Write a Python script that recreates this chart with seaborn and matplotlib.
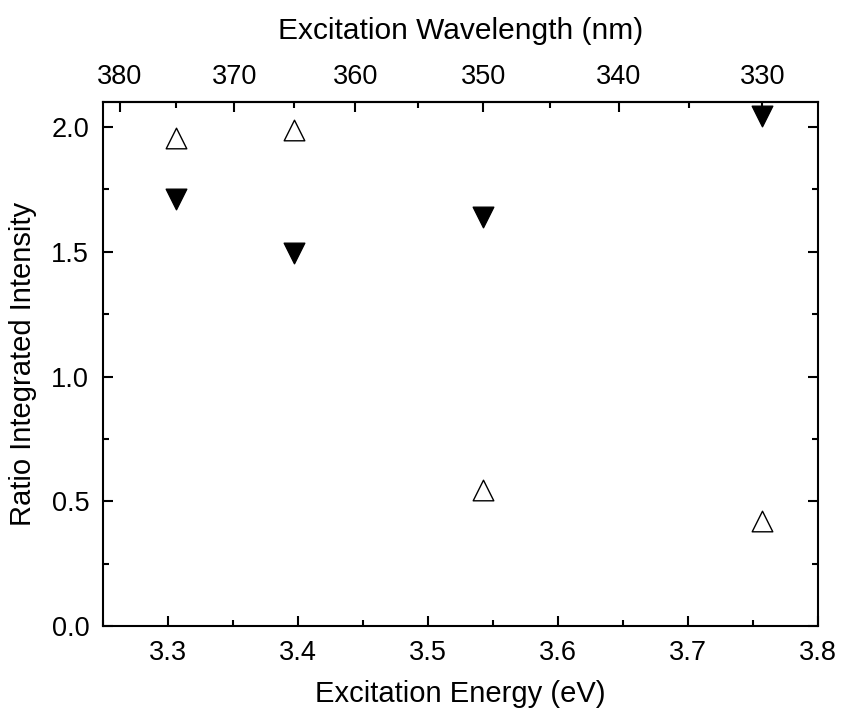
import numpy as np
import pandas as pd
import matplotlib
matplotlib.use('Agg')
import matplotlib.pyplot as plt
import seaborn as sns
from matplotlib.ticker import MultipleLocator

# 数据：激发能量 (eV) 及两组强度比
energy = [3.306, 3.397, 3.542, 3.757]
ratio_open = [1.957, 1.987, 0.547, 0.421]
ratio_filled = [1.712, 1.496, 1.640, 2.044]
wavelength_ticks = [380, 370, 360, 350, 340, 330]
wavelength_minor = [375, 365, 355, 345, 335]

sns.set_style("ticks")
plt.rcParams['font.family'] = ['Liberation Sans', 'DejaVu Sans']
plt.rcParams['text.color'] = 'black'
plt.rcParams['axes.labelcolor'] = 'black'
plt.rcParams['xtick.color'] = 'black'
plt.rcParams['ytick.color'] = 'black'
plt.rcParams['axes.edgecolor'] = 'black'

df_open = pd.DataFrame({'energy': energy, 'ratio': ratio_open})
df_filled = pd.DataFrame({'energy': energy, 'ratio': ratio_filled})

fig = plt.figure(figsize=(8.41, 7.18), dpi=100)
ax = fig.add_axes([0.1225, 0.1281, 0.8502, 0.7298])

sns.scatterplot(data=df_open, x='energy', y='ratio', marker='^', s=220,
                facecolor='white', edgecolor='black', linewidth=1.0, ax=ax)
sns.scatterplot(data=df_filled, x='energy', y='ratio', marker='v', s=220,
                color='black', edgecolor='black', linewidth=1.0, ax=ax)

ax.set_xlim(3.25, 3.8)
ax.set_ylim(0, 2.1)
ax.xaxis.set_major_locator(MultipleLocator(0.1))
ax.xaxis.set_minor_locator(MultipleLocator(0.05))
ax.yaxis.set_major_locator(MultipleLocator(0.5))
ax.yaxis.set_minor_locator(MultipleLocator(0.25))
ax.set_xlabel('Excitation Energy (eV)', fontsize=21, labelpad=10)
ax.set_ylabel('Ratio Integrated Intensity', fontsize=21, labelpad=10)
ax.tick_params(which='both', direction='in', right=True, top=False, width=1.5,
               labelsize=19.5, pad=10)
ax.tick_params(which='major', length=7)
ax.tick_params(which='minor', length=4)
for sp in ax.spines.values():
    sp.set_linewidth(1.5)


# 顶部波长坐标轴
def e2nm(e):
    with np.errstate(divide='ignore'):
        return 1239.84 / np.asarray(e, dtype=float)


secax = ax.secondary_xaxis('top', functions=(e2nm, e2nm))
secax.set_xticks(wavelength_ticks)
secax.set_xticks(wavelength_minor, minor=True)
secax.set_xlabel('Excitation Wavelength (nm)', fontsize=21.5, labelpad=18)
secax.tick_params(which='both', direction='in', width=1.5, labelsize=19.5, pad=9)
secax.tick_params(which='major', length=7)
secax.tick_params(which='minor', length=4)
secax.spines['top'].set_linewidth(1.5)

plt.savefig('out.png', dpi=100)
